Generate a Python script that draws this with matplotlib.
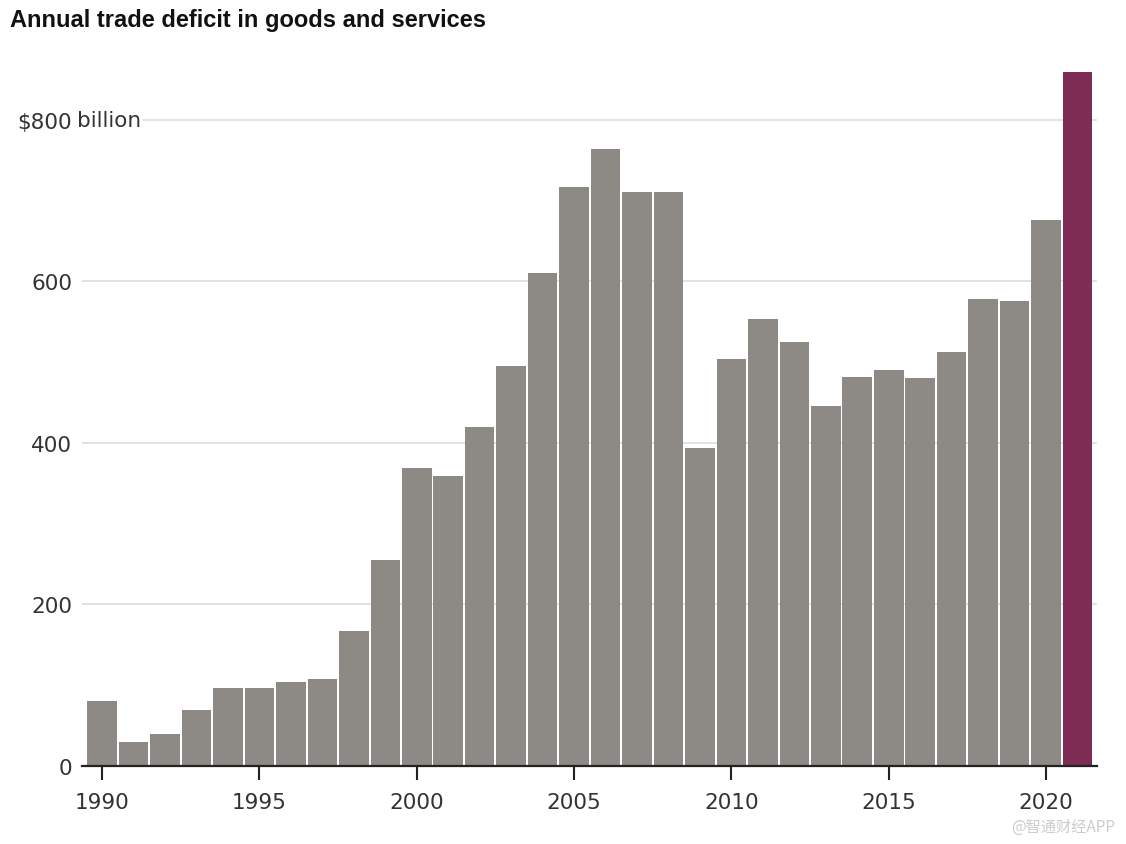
import matplotlib.pyplot as plt
from matplotlib.transforms import blended_transform_factory

years = list(range(1990, 2022))
deficit = [80, 30, 39, 69, 97, 97, 104, 108, 167, 255,
           369, 359, 419, 495, 610, 716, 763, 710, 711, 394,
           504, 553, 525, 445, 482, 490, 480, 512, 578, 575,
           676, 859]
yticks = [0, 200, 400, 600, 800]
ytick_labels = ['0', '200', '400', '600', '$800']
xticks = [1990, 1995, 2000, 2005, 2010, 2015, 2020]

plt.rcParams['font.family'] = ['DejaVu Sans']

fig = plt.figure(figsize=(11.26, 8.45), dpi=100)
ax = fig.add_axes([82 / 1126, 1 - 767 / 845, (1097 - 82) / 1126, 707 / 845])

colors = ['#8d8a85'] * (len(years) - 1) + ['#7f2c55']
ax.bar(years, deficit, width=0.94, color=colors, zorder=2)

ax.set_xlim(1989.36, 2021.62)
ax.set_ylim(0, 875)

ax.set_yticks(yticks)
ax.set_yticklabels(ytick_labels)
ax.yaxis.grid(True, color='#dddddd', linewidth=1.2, zorder=0)
ax.set_axisbelow(True)
ax.tick_params(axis='y', length=0, pad=7, labelsize=15.5, labelcolor='#333333')

ax.set_xticks(xticks)
ax.tick_params(axis='x', length=10, width=1.5, color='#222222', pad=9,
               labelsize=15.5, labelcolor='#333333')

for s in ['top', 'right', 'left']:
    ax.spines[s].set_visible(False)
ax.spines['bottom'].set_linewidth(1.6)
ax.spines['bottom'].set_color('#222222')
ax.spines['bottom'].set_zorder(3)

# unit label after the top tick
tr = blended_transform_factory(ax.transAxes, ax.transData)
ax.text(-0.0048, 800, 'billion', transform=tr, ha='left', va='center',
        fontsize=15.5, color='#333333', zorder=3,
        bbox=dict(facecolor='white', edgecolor='none', pad=1))

fig.text(10 / 1126, 1 - 20 / 845, 'Annual trade deficit in goods and services',
         fontsize=17, fontweight='bold', ha='left', va='center', color='#111111',
         family=['Liberation Sans', 'DejaVu Sans'])

fig.text(1115 / 1126, 1 - 827 / 845, '@智通财经APP', ha='right', va='center',
         fontsize=11, color='#cccccc', family=['Noto Sans CJK SC', 'DejaVu Sans'])

fig.savefig('out.png', dpi=100)
